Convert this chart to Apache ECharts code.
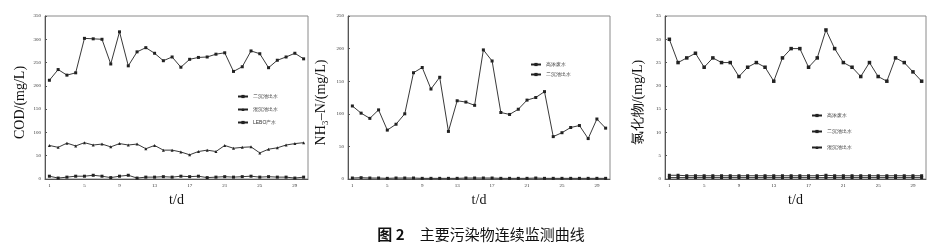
<!DOCTYPE html>
<html>
<head>
<meta charset="utf-8">
<script src="https://cdn.jsdelivr.net/npm/echarts@6/dist/echarts.min.js"></script>
<style>
html,body{margin:0;padding:0;background:#fff;}
#c{width:944px;height:243px;}
</style>
</head>
<body>
<div id="c"></div>
<script>
// ---- data ----
var days = ['1','2','3','4','5','6','7','8','9','10','11','12','13','14','15','16','17','18','19','20','21','22','23','24','25','26','27','28','29','30'];

// Panel 1: COD
var codTicks = [0, 50, 100, 150, 200, 250, 300, 350];
var codSecondary = [212,235,223,228,302,301,300,247,316,243,273,282,270,254,262,240,257,261,262,268,271,231,241,275,269,239,255,262,270,258];
var codCoag = [72,68,77,71,78,73,75,69,76,73,75,65,72,62,62,58,52,59,62,59,72,66,68,69,56,64,67,73,76,78];
var codLebo = [6,2,4,6,6,8,6,3,6,8,2,4,4,5,4,6,5,6,3,4,5,4,5,6,4,5,4,4,2,4];

// Panel 2: NH3-N
var nhTicks = [0, 50, 100, 150, 200, 250];
var nhRaw = [112,101,93,106,75,84,100,163,171,138,156,73,120,118,113,198,181,102,99,107,121,125,134,65,71,79,82,62,92,78];
var nhSecondary = [1.5,2,1.5,1.5,1,1.5,1.5,1.5,1,1,1,1,1,1.5,1.5,1.5,1.5,1,1,1,1,1.5,1,1,1,1,1,1,1,1];

// Panel 3: chloride
var clTicks = [0, 5, 10, 15, 20, 25, 30, 35];
var clRaw = [30,25,26,27,24,26,25,25,22,24,25,24,21,26,28,28,24,26,32,28,25,24,22,25,22,21,26,25,23,21];
var clSecondary = [0.8,0.8,0.7,0.7,0.7,0.7,0.7,0.7,0.7,0.7,0.7,0.7,0.7,0.7,0.7,0.7,0.7,0.7,0.8,0.7,0.7,0.7,0.7,0.7,0.7,0.7,0.7,0.7,0.7,0.7];
var clCoag = [0.3,0.3,0.3,0.3,0.3,0.3,0.3,0.3,0.3,0.3,0.3,0.3,0.3,0.3,0.3,0.3,0.3,0.3,0.3,0.3,0.3,0.3,0.3,0.3,0.3,0.3,0.3,0.3,0.3,0.3];

var names1 = ['二沉池出水', '混沉池出水', 'LEBO产水'];
var names2 = ['高浓废水', '二沉池出水'];
var names3 = ['高浓废水', '二沉池出水', '混沉池出水'];

// ---- chart ----
var chart = echarts.init(document.getElementById('c'), null, {renderer: 'canvas'});
var serif = '"Liberation Serif", "DejaVu Serif", serif';
var lineColor = '#222';

function grid(left, width) {
  return {left: left, top: 16, width: width, height: 163, show: true,
          borderColor: '#8a8a8a', borderWidth: 1, backgroundColor: 'transparent'};
}
function xAxis(i) {
  return {
    type: 'category', gridIndex: i, data: days, boundaryGap: true,
    name: 't/d', nameLocation: 'middle', nameGap: 9,
    nameTextStyle: {fontFamily: serif, fontSize: 14, color: '#111'},
    axisLine: {lineStyle: {color: '#555', width: 1}},
    axisTick: {inside: true, length: 2, interval: 3, alignWithLabel: true, lineStyle: {color: '#555'}},
    axisLabel: {interval: 3, fontSize: 5, color: '#333', margin: 4, fontFamily: serif},
    splitLine: {show: false}
  };
}
function yAxis(i, ticks, nameText, gap) {
  return {
    type: 'value', gridIndex: i, min: ticks[0], max: ticks[ticks.length - 1],
    interval: ticks[1] - ticks[0],
    name: nameText, nameLocation: 'middle', nameGap: gap,
    nameTextStyle: {fontFamily: serif, fontSize: 14, color: '#111', padding: [0, 0, 0, -10]},
    axisLine: {show: true, lineStyle: {color: '#555', width: 1}},
    axisTick: {show: true, inside: true, length: 2, lineStyle: {color: '#555'}},
    axisLabel: {fontSize: 5, color: '#333', margin: 4, fontFamily: serif},
    splitLine: {show: false}
  };
}
function line(name, data, i, symbol, size) {
  return {
    type: 'line', name: name, data: data, xAxisIndex: i, yAxisIndex: i,
    symbol: symbol, symbolSize: size, showSymbol: true,
    lineStyle: {color: lineColor, width: 0.9},
    itemStyle: {color: lineColor},
    animation: false
  };
}
function legend(names, left, top, gap) {
  return {
    data: names, orient: 'vertical', left: left, top: top, itemGap: gap,
    itemWidth: 10, itemHeight: 4, selectedMode: false,
    textStyle: {fontSize: 5, color: '#333'}
  };
}

var cjk = '"Noto Sans CJK SC", sans-serif';

var option = {
  backgroundColor: '#fff',
  animation: false,
  title: {
    text: '{b|图 2}　主要污染物连续监测曲线',
    left: 476, top: 222, textAlign: 'center',
    textStyle: {
      fontFamily: cjk, fontSize: 15, fontWeight: 'normal', color: '#111',
      rich: {b: {fontFamily: cjk, fontSize: 15, fontWeight: 'bold', color: '#111'}}
    }
  },
  grid: [grid(45, 263), grid(348, 262), grid(665, 261)],
  xAxis: [xAxis(0), xAxis(1), xAxis(2)],
  yAxis: [
    yAxis(0, codTicks, 'COD/(mg/L)', 18),
    yAxis(1, nhTicks, 'NH₃–N/(mg/L)', 20),
    yAxis(2, clTicks, '氯化物/(mg/L)', 20)
  ],
  legend: [
    legend(names1, 232, 89, 8),
    legend(names2, 525, 57, 5),
    legend(names3, 806, 108, 11)
  ],
  series: [
    line(names1[0], codSecondary, 0, 'rect', 3),
    line(names1[1], codCoag, 0, 'triangle', 3),
    line(names1[2], codLebo, 0, 'rect', 3),
    line(names2[0], nhRaw, 1, 'rect', 3),
    line(names2[1], nhSecondary, 1, 'rect', 3),
    line(names3[0], clRaw, 2, 'rect', 3.5),
    line(names3[1], clSecondary, 2, 'rect', 3),
    line(names3[2], clCoag, 2, 'rect', 3)
  ]
};
chart.setOption(option);
</script>
</body>
</html>
